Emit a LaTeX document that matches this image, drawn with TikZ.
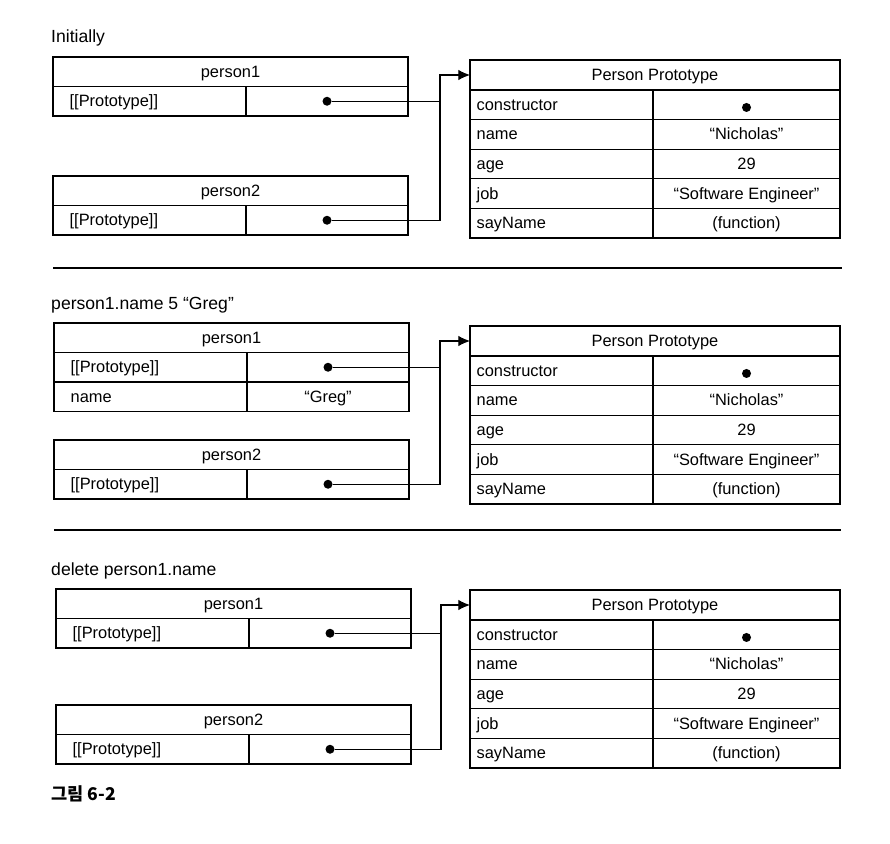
\documentclass[tikz,border=0pt]{standalone}
\usepackage{fontspec}
\setmainfont{Liberation Sans}
\newfontfamily\krfont{Noto Sans CJK KR}
\usetikzlibrary{positioning}
\usetikzlibrary{arrows.meta}

\tikzset{
  cell/.style={draw, rectangle, line width=0.9pt, outer sep=0pt, inner sep=0pt,
    minimum height=0.885cm, text height=10pt, text depth=0.5pt,
    font=\fontsize{14}{16}\selectfont},
  head/.style={cell, minimum width=10.65cm},
  pkey/.style={cell, inner xsep=0.5cm, text width=4.79cm, align=left},
  pval/.style={cell, minimum width=4.86cm},
  ckey/.style={cell, inner xsep=0.2cm, text width=5.09cm, align=left, minimum height=0.888cm},
  cval/.style={cell, minimum width=5.61cm, minimum height=0.888cm},
  dot/.style={circle, fill, inner sep=0pt, minimum size=0.27cm},
  link/.style={line width=0.9pt},
  title/.style={anchor=base west, inner sep=0pt, font=\fontsize{15}{17}\selectfont},
}

\begin{document}
\begin{tikzpicture}[x=0.03cm, y=-0.03cm, every path/.style={>={Latex[length=10pt,width=9pt]}}]
	\useasboundingbox (0,0) rectangle (890,844);

	% the three prototype tables
	\foreach \s/\y in {1/60, 2/326, 3/590} {
		\node (pp\s) at (470,\y) [head, anchor=north west, minimum width=11.1cm, minimum height=0.9cm] {Person Prototype};
		\foreach \k/\v [count=\i] in {constructor/{}, name/“Nicholas”, age/29, job/“Software Engineer”, sayName/(function)} {
			\node (pk\s-\i) at (470,{\y+30+(\i-1)*29.6}) [ckey, anchor=north west] {\k};
			\node (pv\s-\i) [cval, right=0pt of pk\s-\i] {\v};
		}
		\node (c\s) at (pv\s-1) [dot, yshift=-0.08cm] {};
	}

	% Initially
	\node (t1) at (51,43) [title] {Initially};
	\node (p1a) at (53,57) [head, anchor=north west] {person1};
	\node (k1a) [pkey, below right=0pt and 0pt of p1a.south west] {[[Prototype]]};
	\node (v1a) [pval, right=0pt of k1a] {};
	\node (d1a) at (v1a) [dot] {};
	\node (p1b) at (53,176) [head, anchor=north west] {person2};
	\node (k1b) [pkey, below right=0pt and 0pt of p1b.south west] {[[Prototype]]};
	\node (v1b) [pval, right=0pt of k1b] {};
	\node (d1b) at (v1b) [dot] {};
	\coordinate (j1) at (pp1.west -| 440,0);
	\draw[link, ->] (d1b) -| (j1) -- (pp1.west);
	\draw[link] (d1a) -- (d1a -| j1);

	\draw[line width=1.4pt] (53,268) -- (842,268);

	% person1.name = "Greg"
	\node (t2) at (51,309) [title] {person1.name 5 “Greg”};
	\node (p2a) at (54,323) [head, anchor=north west] {person1};
	\node (k2a) [pkey, below right=0pt and 0pt of p2a.south west] {[[Prototype]]};
	\node (v2a) [pval, right=0pt of k2a] {};
	\node (d2a) at (v2a) [dot] {};
	\node (k2c) [pkey, below=0pt of k2a] {name};
	\node (v2c) [pval, right=0pt of k2c] {“Greg”};
	\node (p2b) at (54,440) [head, anchor=north west] {person2};
	\node (k2b) [pkey, below right=0pt and 0pt of p2b.south west] {[[Prototype]]};
	\node (v2b) [pval, right=0pt of k2b] {};
	\node (d2b) at (v2b) [dot] {};
	\coordinate (j2) at (pp2.west -| 440,0);
	\draw[link, ->] (d2b) -| (j2) -- (pp2.west);
	\draw[link] (d2a) -- (d2a -| j2);

	\draw[line width=1.4pt] (54,530) -- (841,530);

	% delete person1.name
	\node (t3) at (51,575) [title] {delete person1.name};
	\node (p3a) at (56,589) [head, anchor=north west] {person1};
	\node (k3a) [pkey, below right=0pt and 0pt of p3a.south west] {[[Prototype]]};
	\node (v3a) [pval, right=0pt of k3a] {};
	\node (d3a) at (v3a) [dot] {};
	\node (p3b) at (56,705) [head, anchor=north west] {person2};
	\node (k3b) [pkey, below right=0pt and 0pt of p3b.south west] {[[Prototype]]};
	\node (v3b) [pval, right=0pt of k3b] {};
	\node (d3b) at (v3b) [dot] {};
	\coordinate (j3) at (pp3.west -| 441,0);
	\draw[link, ->] (d3b) -| (j3) -- (pp3.west);
	\draw[link] (d3a) -- (d3a -| j3);

	\node (cap) at (51,800) [title, font=\krfont\bfseries\fontsize{15}{17}\selectfont] {그림 6-2};
\end{tikzpicture}
\end{document}
